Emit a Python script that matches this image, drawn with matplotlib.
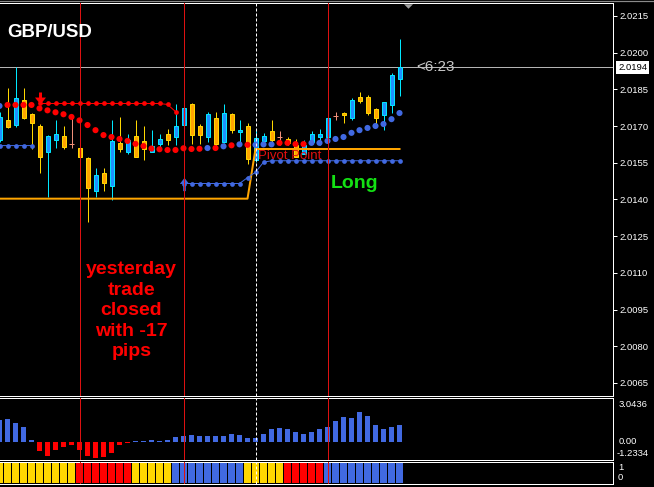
import numpy as np
import matplotlib
matplotlib.use('Agg')
import matplotlib.pyplot as plt
from matplotlib.path import Path
from matplotlib.lines import Line2D
import matplotlib.transforms as mtrans

plt.rcParams['font.family'] = ['Liberation Sans', 'DejaVu Sans']

# ---------------- data ----------------
opens = [2.01642, 2.01726, 2.01703, 2.01805, 2.01748, 2.01699, 2.01594, 2.01642, 2.01658, 2.01628,
         2.01609, 2.01568, 2.01434, 2.01507, 2.01455, 2.01631, 2.01594, 2.01658, 2.01638, 2.01594,
         2.01628, 2.01666, 2.01655, 2.01703, 2.01789, 2.01699, 2.01655, 2.01734, 2.01635, 2.01748,
         2.01676, 2.01699, 2.01560, 2.01638, 2.01680, 2.01656, 2.01646, 2.01621, 2.01587, 2.01635,
         2.01655, 2.01655, 2.01740, 2.01755, 2.01734, 2.01817, 2.01817, 2.01768, 2.01744, 2.01785,
         2.01894]
highs = [2.01756, 2.01857, 2.01940, 2.01857, 2.01752, 2.01707, 2.01662, 2.01726, 2.01699, 2.01737,
         2.01613, 2.01572, 2.01528, 2.01528, 2.01726, 2.01737, 2.01666, 2.01726, 2.01699, 2.01685,
         2.01666, 2.01689, 2.01789, 2.01781, 2.01793, 2.01707, 2.01757, 2.01757, 2.01789, 2.01753,
         2.01726, 2.01712, 2.01683, 2.01670, 2.01726, 2.01678, 2.01654, 2.01646, 2.01642, 2.01678,
         2.01687, 2.01740, 2.01757, 2.01758, 2.01816, 2.01837, 2.01826, 2.01775, 2.01798, 2.01917,
         2.02054]
lows = [2.01634, 2.01693, 2.01696, 2.01727, 2.01608, 2.01506, 2.01408, 2.01612, 2.01604, 2.01612,
        2.01572, 2.01308, 2.01410, 2.01434, 2.01396, 2.01594, 2.01584, 2.01572, 2.01563, 2.01593,
        2.01608, 2.01621, 2.01621, 2.01699, 2.01628, 2.01628, 2.01635, 2.01614, 2.01629, 2.01670,
        2.01635, 2.01546, 2.01552, 2.01634, 2.01635, 2.01621, 2.01621, 2.01572, 2.01584, 2.01633,
        2.01621, 2.01650, 2.01723, 2.01712, 2.01723, 2.01794, 2.01744, 2.01710, 2.01683, 2.01753,
        2.01823]
closes = [2.01737, 2.01696, 2.01816, 2.01734, 2.01712, 2.01573, 2.01658, 2.01666, 2.01614, 2.01628,
          2.01573, 2.01447, 2.01499, 2.01467, 2.01638, 2.01604, 2.01642, 2.01573, 2.01604, 2.01617,
          2.01646, 2.01642, 2.01699, 2.01775, 2.01662, 2.01662, 2.01748, 2.01628, 2.01755, 2.01683,
          2.01685, 2.01567, 2.01650, 2.01658, 2.01642, 2.01656, 2.01629, 2.01573, 2.01621, 2.01666,
          2.01666, 2.01734, 2.01740, 2.01744, 2.01805, 2.01802, 2.01753, 2.01733, 2.01797, 2.01907,
          2.01940]

# trailing stop dots (big)
stop_dots = [2.01782, 2.01786, 2.01786, 2.01786, 2.01786, 2.01772, 2.01764, 2.01756, 2.01748, 2.01737,
             2.01723, 2.01704, 2.01683, 2.01663, 2.01655, 2.01647, 2.01639, 2.01627, 2.01618, 2.01608,
             2.01605, 2.01602, 2.01602, 2.01609, 2.01606, 2.01607, 2.01610, 2.01610, 2.01617, 2.01621,
             2.01625, 2.01623, 2.01623, 2.01625, 2.01625, 2.01631, 2.01631, 2.01626, 2.01626, 2.01631,
             2.01631, 2.01639, 2.01647, 2.01655, 2.01672, 2.01683, 2.01692, 2.01700, 2.01708, 2.01728,
             2.01753]
stop_trend = ['b', 'r', 'r', 'r', 'r', 'r', 'r', 'r', 'r', 'r',
              'r', 'r', 'r', 'r', 'r', 'r', 'r', 'r', 'r', 'r',
              'r', 'r', 'r', 'r', 'r', 'r', 'b', 'r', 'b', 'r',
              'b', 'r', 'b', 'b', 'b', 'r', 'r', 'r', 'r', 'b',
              'b', 'b', 'b', 'b', 'b', 'b', 'b', 'b', 'b', 'b',
              'b']
# sell stop line (red, small dots)
sell_line = [None, None, None, None, None, 2.01792, 2.01792, 2.01792, 2.01792, 2.01792,
             2.01792, 2.01792, 2.01792, 2.01792, 2.01792, 2.01792, 2.01792, 2.01792, 2.01792, 2.01792,
             2.01792, 2.01788, 2.01759, None, None, None, None, None, None, None,
             None, None, None, None, None, None, None, None, None, None,
             None, None, None, None, None, None, None, None, None, None,
             None]
# buy stop line (blue, small dots)
buy_line = [2.01620, 2.01620, 2.01620, 2.01620, 2.01620, None, None, None, None, None,
            None, None, None, None, None, None, None, None, None, None,
            None, None, None, 2.01465, 2.01465, 2.01465, 2.01465, 2.01465, 2.01465, 2.01465,
            2.01465, 2.01489, 2.01511, 2.01552, 2.01558, 2.01558, 2.01558, 2.01558, 2.01558, 2.01558,
            2.01558, 2.01558, 2.01558, 2.01558, 2.01558, 2.01558, 2.01558, 2.01558, 2.01558, 2.01558,
            2.01558]
pivot = [2.01403, 2.01403, 2.01403, 2.01403, 2.01403, 2.01403, 2.01403, 2.01403, 2.01403, 2.01403,
         2.01403, 2.01403, 2.01403, 2.01403, 2.01403, 2.01403, 2.01403, 2.01403, 2.01403, 2.01403,
         2.01403, 2.01403, 2.01403, 2.01403, 2.01403, 2.01403, 2.01403, 2.01403, 2.01403, 2.01403,
         2.01403, 2.01403, 2.01606, 2.01606, 2.01606, 2.01606, 2.01606, 2.01606, 2.01606, 2.01606,
         2.01606, 2.01606, 2.01606, 2.01606, 2.01606, 2.01606, 2.01606, 2.01606, 2.01606, 2.01606,
         2.01606]
sell_arrow_bar = 5
buy_arrow_bar = 23
separators = [10, 23, 41]
day_start = 32

hist = [1.52, 1.59, 1.31, 1.04, 0.14, -0.60, -0.97, -0.55, -0.35, -0.21,
        -0.55, -0.97, -1.11, -1.04, -0.76, -0.21, -0.07, 0.07, 0.07, 0.14,
        0.07, 0.14, 0.35, 0.41, 0.48, 0.41, 0.41, 0.41, 0.41, 0.55,
        0.48, 0.28, 0.28, 0.55, 0.90, 0.97, 0.90, 0.69, 0.55, 0.69,
        0.90, 1.04, 1.45, 1.73, 1.66, 2.07, 1.80, 1.18, 0.90, 1.04,
        1.18]
hist_max, hist_min = 3.0436, -1.2334

states = ['Y'] * 10 + ['R'] * 7 + ['Y'] * 5 + ['B'] * 9 + ['Y'] * 5 + ['R'] * 5 + ['B'] * 10

price_ticks = [2.0065, 2.0080, 2.0095, 2.0110, 2.0125, 2.0140, 2.0155, 2.0170, 2.0185, 2.0200, 2.0215]
price_lim = (2.005986, 2.022027)
symbol = 'GBP/USD'
note = 'yesterday\ntrade\nclosed\nwith -17\npips'
signal = 'Long'
timer = '<6:23'

# ---------------- layout ----------------
W, H, DPI = 654, 487, 100
PX = 72.0 / DPI
fig = plt.figure(figsize=(W / DPI, H / DPI), dpi=DPI, facecolor='black')


def rect(x0, y0, x1, y1):
    return [x0 / W, 1 - y1 / H, (x1 - x0) / W, (y1 - y0) / H]


ax = fig.add_axes(rect(0, 3, 613, 395.5))
ax1 = fig.add_axes(rect(0, 397.5, 613, 460))
ax2 = fig.add_axes(rect(0, 462, 613, 484.3))

n = len(closes)
x = np.arange(n)
xlim = (0.0625, 76.6875)

RED = '#FF0000'
BLUE = '#4169E1'
GOLD = '#FFD700'
SEP = '#DD1111'

for a in (ax, ax1, ax2):
    a.set_facecolor('black')
    a.set_xlim(*xlim)
    a.set_xticks([])
    for s in ('top', 'right', 'bottom'):
        a.spines[s].set_color('white')
        a.spines[s].set_linewidth(PX)
    a.spines['left'].set_visible(False)
    for sx in separators:
        a.axvline(sx, color=SEP, lw=PX, zorder=8)
    a.axvline(day_start, color='white', lw=PX, linestyle=(0, (3, 2)), zorder=8)

fig.add_artist(Line2D([0, 1], [1 - 0.8 / H] * 2, color='#8a8a8a', lw=1.2 * PX))

# ---------------- main panel ----------------
ax.set_ylim(*price_lim)
ax.yaxis.tick_right()
ax.set_yticks(price_ticks)
ax.set_yticklabels([f'{t:.4f}' for t in price_ticks])
ax.tick_params(axis='y', colors='white', labelcolor='white', labelsize=6.8,
               length=3 * PX * 1.39, width=PX, direction='out', pad=1.5)

ax.axhline(closes[-1], color='#b4b4b4', lw=PX, zorder=1)

for i in range(n):
    o, h, l, c = opens[i], highs[i], lows[i], closes[i]
    if o == c:
        ax.vlines(i, l, h, color='#F0907A', lw=PX, zorder=3)
        ax.hlines(o, i - 0.35, i + 0.35, color='#F0907A', lw=PX, zorder=3)
        continue
    if c > o:
        wick, fill, rim = '#00E8FF', '#1E90FF', '#00E8FF'
    else:
        wick, fill, rim = GOLD, '#FFA500', GOLD
    ax.vlines(i, l, h, color=wick, lw=PX, zorder=2)
    ax.bar(i, abs(c - o), bottom=min(o, c), width=0.5, color=fill,
           edgecolor=rim, linewidth=PX, zorder=3)

ax.plot(x, pivot, color='#FFA500', lw=2 * PX, zorder=4)

sell_arr = np.array(sell_line, dtype=float)
buy_arr = np.array(buy_line, dtype=float)
ax.plot(x, sell_arr, color=RED, lw=PX, marker='o', ms=3.4, mec='none', zorder=5)
ax.plot(x, buy_arr, color=BLUE, lw=PX, marker='o', ms=3.4, mec='none', zorder=5)

dot_colors = [RED if t == 'r' else BLUE for t in stop_trend]
ax.scatter(x, stop_dots, s=4.4 ** 2, c=dot_colors, edgecolors='none', zorder=6)

down_arrow = Path([(-0.125, 0.5), (0.125, 0.5), (0.125, 0.08), (0.458, 0.08), (0.0, -0.5),
                   (-0.458, 0.08), (-0.125, 0.08), (-0.125, 0.5)], closed=True)
up_arrow = Path([(-0.1, -0.5), (0.1, -0.5), (0.1, 0.04), (0.35, 0.04), (0.0, 0.5),
                 (-0.35, 0.04), (-0.1, 0.04), (-0.1, -0.5)], closed=True)
ax.plot([sell_arrow_bar], [sell_arr[sell_arrow_bar] + 0.00022], marker=down_arrow,
        ms=12 * PX, color=RED, mec='none', zorder=7, ls='none')
ax.plot([buy_arrow_bar], [buy_arr[buy_arrow_bar]], marker=up_arrow,
        ms=13.3 * PX, color=BLUE, mec='none', zorder=7, ls='none')

tri = Path([(-0.5, 0.25), (0.5, 0.25), (0.0, -0.25), (-0.5, 0.25)], closed=True)
blend = mtrans.blended_transform_factory(ax.transData, ax.transAxes)
ax.plot([n + 0.1], [0.9916], marker=tri, ms=9 * PX, color='#a0a0a0', mec='none',
        transform=blend, clip_on=False, zorder=9)

ax.text(day_start + 0.33, pivot[day_start] - 0.00006, 'Pivot Point', color='#E01010',
        fontsize=9.5, ha='left', va='top', zorder=7)
ax.text(n + 1.05, closes[-1], timer, color='#c8c8c8', fontsize=11, ha='left', va='center',
        zorder=7)

price_blend = mtrans.blended_transform_factory(ax.transAxes, ax.transData)
ax.text(618 / 613, closes[-1], f'{closes[-1]:.4f}', color='black', fontsize=6.8,
        ha='left', va='center', transform=price_blend,
        bbox=dict(boxstyle='square,pad=0.22', fc='white', ec='none'), zorder=10)


def fx(px):
    return px / 613.0


def fy(py):
    return (395.5 - py) / 392.5


ax.text(fx(7), fy(37.3), symbol, color='white', fontsize=13.4, fontweight='bold',
        ha='left', va='baseline', transform=ax.transAxes, zorder=9)
# multi-line baseline aligns the last line
ax.text(fx(131.5), fy(356.5), note, color=RED, fontsize=14, fontweight='bold',
        ha='center', va='baseline', multialignment='center', linespacing=1.275,
        transform=ax.transAxes, zorder=9)
ax.text(fx(331), fy(188.3), signal, color='#14E014', fontsize=14, fontweight='bold',
        ha='left', va='baseline', transform=ax.transAxes, zorder=9)

# ---------------- histogram panel ----------------
ax1.set_ylim(hist_min, hist_max)
ax1.set_yticks([])
hcolors = [BLUE if v >= 0 else RED for v in hist]
ax1.bar(x, hist, width=0.625, color=hcolors, zorder=3)
for val, py in ((f'{hist_max:.4f}', 404.3), ('0.00', 441.0), (f'{hist_min:.4f}', 453.7)):
    xpos = 616.5 if val.startswith('-') else 619
    ax1.text(xpos / 613, (460 - py) / 62.5, val, color='white', fontsize=6.8,
             ha='left', va='center', transform=ax1.transAxes)

# ---------------- state panel ----------------
ax2.set_ylim(-0.05, 1.05)
ax2.set_yticks([])
scol = {'Y': GOLD, 'R': RED, 'B': BLUE}
ax2.bar(x, [1] * n, width=0.875, bottom=0, color=[scol[s] for s in states], zorder=3)
for val, py in (('1', 468.0), ('0', 477.0)):
    ax2.text(618 / 613, (484.3 - py) / 22.3, val, color='white', fontsize=6.8,
             ha='left', va='center', transform=ax2.transAxes)

fig.savefig('out.png', dpi=DPI, facecolor='black')
